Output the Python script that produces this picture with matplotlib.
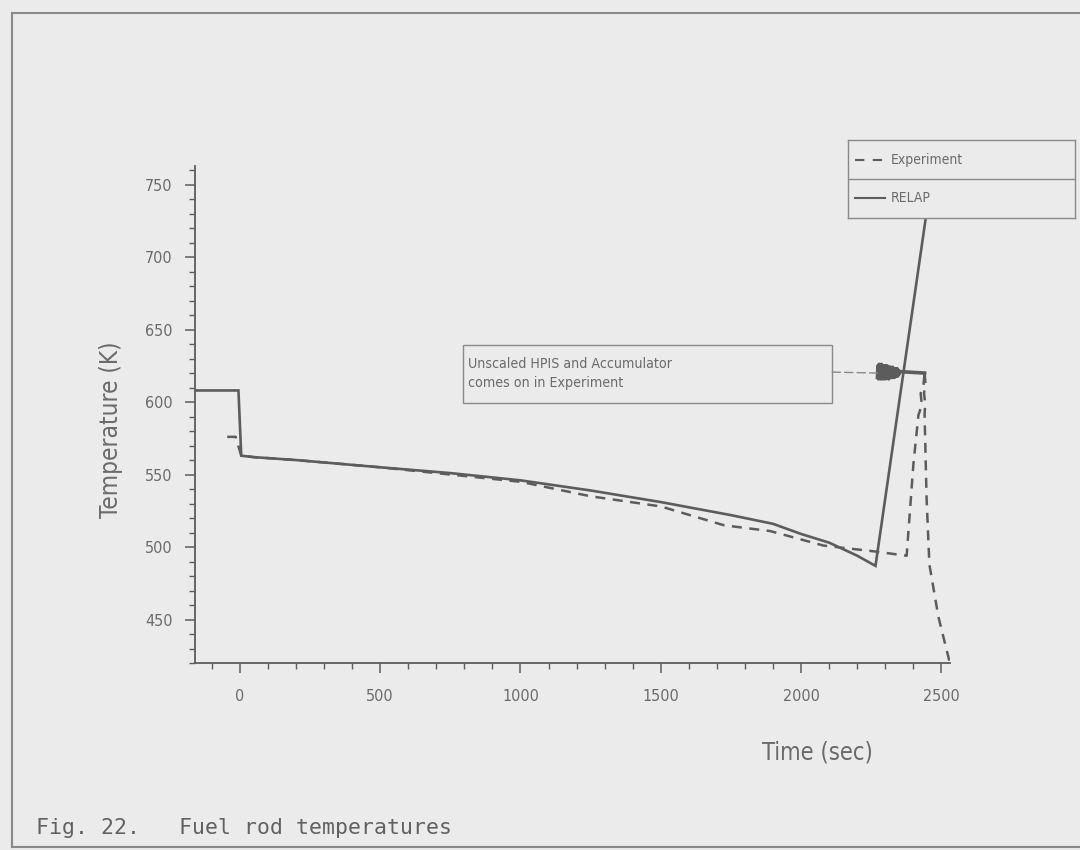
import matplotlib
matplotlib.use("Agg")
import matplotlib.pyplot as plt
from matplotlib.lines import Line2D
from matplotlib.patches import Rectangle
from matplotlib.ticker import MultipleLocator
from matplotlib import font_manager

# RELAP calculation (time in s, temperature in K)
relap_time = [-160, -5, 5, 50, 200, 500, 750, 1000, 1250, 1500, 1750, 1900,
              2000, 2100, 2200, 2265, 2480]
relap_temp = [608, 608, 563, 562, 560, 555, 551, 546, 539, 531, 522, 516,
              509, 503, 494, 487, 775]

# measured data
exp_time = [-45, -15, 5, 50, 200, 500, 750, 1000, 1250, 1500, 1725, 1890,
            2080, 2260, 2376, 2400, 2418, 2430, 2426, 2436, 2440]
exp_temp = [576, 576, 563, 562, 560, 555, 550, 545, 535, 528, 515, 511,
            501, 497, 494, 557, 591, 598, 606, 612, 620]

# oscillating segment when HPIS / accumulator comes on
osc_time = [2272, 2274, 2276, 2278, 2280, 2282, 2284, 2286, 2288, 2290,
            2292, 2294, 2296, 2298, 2300, 2302, 2304, 2306, 2308, 2310,
            2312, 2314, 2316, 2318, 2320, 2322, 2324, 2326, 2328, 2330,
            2332, 2334, 2336, 2338, 2340, 2342, 2344, 2346, 2348, 2350,
            2440]
osc_temp = [617, 625, 616, 626, 617, 625, 616, 626, 617, 625, 616, 625,
            617, 625, 616, 624, 617, 625, 617, 624, 616, 624, 617, 624,
            617, 623, 617, 624, 618, 623, 617, 623, 618, 622, 618, 623,
            618, 622, 619, 621, 620]

# final quench
fall_time = [2440, 2443, 2438, 2442, 2440, 2447, 2457, 2489, 2530]
fall_temp = [620, 613, 606, 599, 591, 534, 488, 452, 420]

BG = "#ebebeb"
INK = "#5c5c5c"
TXT = "#6a6a6a"
EDGE = "#8a8a8a"

# look for a narrow face, the original lettering is very condensed
narrow = None
for f in font_manager.fontManager.ttflist:
    tag = (f.fname + " " + f.name).lower()
    if ("narrow" in tag or "condensed" in tag) and "bold" not in tag \
            and "oblique" not in tag and "italic" not in tag:
        narrow = f.fname
        break

def nfont(size):
    if narrow:
        return {"fontproperties": font_manager.FontProperties(fname=narrow, size=size)}
    return {"family": "DejaVu Sans", "fontsize": size * 0.85}

fig = plt.figure(figsize=(10.8, 8.5), dpi=100, facecolor=BG)
ax = fig.add_axes([0.1805, 0.22, 0.699, 0.585], facecolor=BG)

ax.plot(relap_time, relap_temp, color=INK, lw=1.9, solid_joinstyle="miter")
dash = (0, (4, 3))
ax.plot(exp_time, exp_temp, color=INK, lw=1.8, ls=dash)
ax.plot(osc_time, osc_temp, color=INK, lw=2.6)
ax.plot(fall_time, fall_temp, color=INK, lw=1.8, ls=dash)

ax.set_xlim(-160, 2530)
ax.set_ylim(420, 763)
ax.xaxis.set_major_locator(MultipleLocator(500))
ax.xaxis.set_minor_locator(MultipleLocator(100))
ax.yaxis.set_minor_locator(MultipleLocator(10))
ax.set_yticks([450, 500, 550, 600, 650, 700, 750])

for s in ("top", "right"):
    ax.spines[s].set_visible(False)
for s in ("left", "bottom"):
    ax.spines[s].set_color(INK)
    ax.spines[s].set_linewidth(1.3)

ax.tick_params(which="major", direction="out", length=7, width=1.1,
               color=INK, labelcolor=TXT)
ax.tick_params(which="minor", direction="out", length=4, width=1.0, color=INK)
ax.tick_params(axis="x", pad=12)
ax.tick_params(axis="y", pad=9)
tick_kw = nfont(11.5)
for lab in ax.get_xticklabels() + ax.get_yticklabels():
    if "fontproperties" in tick_kw:
        lab.set_fontproperties(tick_kw["fontproperties"])
    else:
        lab.set_family(tick_kw["family"])
        lab.set_fontsize(tick_kw["fontsize"])

ax.set_ylabel("Temperature (K)", color=TXT, **nfont(17.5))
ax.yaxis.set_label_coords(-0.095, 0.47)
ax.set_xlabel("Time (sec)", color=TXT, **nfont(17))
ax.xaxis.set_label_coords(0.825, -0.155)

# annotation box
ax.add_patch(Rectangle((0.355, 0.523), 0.489, 0.117, transform=ax.transAxes,
                       fc=BG, ec=EDGE, lw=1.0, zorder=3))
ax.text(0.362, 0.582, "Unscaled HPIS and Accumulator\ncomes on in Experiment",
        transform=ax.transAxes, color=TXT, va="center", ha="left",
        linespacing=1.5, zorder=4, **nfont(10.2))
ax.annotate("", xy=(osc_time[0], osc_temp[-1]), xycoords="data",
            xytext=(0.844, 0.585), textcoords="axes fraction",
            arrowprops=dict(arrowstyle="-", color=EDGE, lw=1.0,
                            ls=(0, (6, 3)), shrinkA=0, shrinkB=0))

# legend drawn as a two-row box
lax = fig.add_axes([0.785, 0.744, 0.21, 0.091], facecolor=BG)
lax.set_xlim(0, 1)
lax.set_ylim(0, 1)
lax.set_xticks([])
lax.set_yticks([])
for s in lax.spines.values():
    s.set_color(EDGE)
    s.set_linewidth(1.0)
lax.add_line(Line2D([0, 1], [0.5, 0.5], color=EDGE, lw=1.0))
lax.add_line(Line2D([0.03, 0.165], [0.75, 0.75], color=INK, lw=1.5,
                    ls=(0, (4.5, 4))))
lax.add_line(Line2D([0.03, 0.165], [0.25, 0.25], color=INK, lw=1.5))
lax.text(0.19, 0.75, "Experiment", color=TXT, va="center", **nfont(10))
lax.text(0.19, 0.25, "RELAP", color=TXT, va="center", **nfont(10))

# page frame and caption
fig.add_artist(Line2D([0.011, 0.011], [0.004, 0.985], color=EDGE, lw=1.5))
fig.add_artist(Line2D([0.011, 1.0], [0.985, 0.985], color=EDGE, lw=1.5))
fig.add_artist(Line2D([0.011, 1.0], [0.004, 0.004], color=EDGE, lw=1.5))
fig.text(0.033, 0.026, "Fig. 22.   Fuel rod temperatures",
         family=["DejaVu Sans Mono", "DejaVu Sans"], fontsize=15.5,
         color="#616161", va="center")

fig.savefig("out.png", dpi=100, facecolor=BG)
